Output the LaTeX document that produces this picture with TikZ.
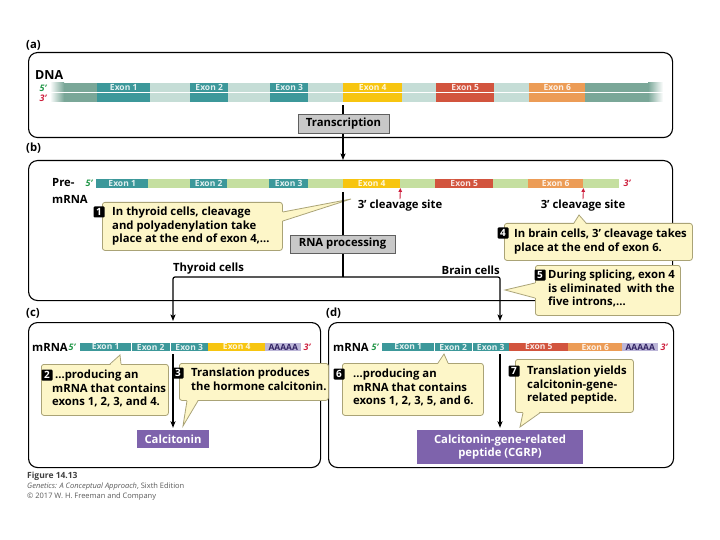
\documentclass[tikz,border=0pt]{standalone}
\usepackage{fontspec}
\setmainfont{Open Sans}
\usetikzlibrary{arrows.meta, positioning, calc}
\definecolor{exteal}{RGB}{60,152,154}
\definecolor{dnaflank}{RGB}{122,167,152}
\definecolor{dnaintron}{RGB}{197,221,214}
\definecolor{preintron}{RGB}{197,223,160}
\definecolor{exyellow}{RGB}{247,197,16}
\definecolor{exred}{RGB}{210,84,62}
\definecolor{exorange}{RGB}{236,156,86}
\definecolor{polya}{RGB}{188,182,216}
\definecolor{polyatext}{RGB}{50,35,100}
\definecolor{notefill}{RGB}{253,246,200}
\definecolor{noteedge}{RGB}{170,163,118}
\definecolor{procgray}{RGB}{200,200,200}
\definecolor{peptide}{RGB}{126,99,172}
\definecolor{fivegreen}{RGB}{34,150,72}
\definecolor{threered}{RGB}{205,30,60}

\begin{document}
\begin{tikzpicture}[x=1pt, y=-1pt,
    every node/.style={font=\bfseries\fontsize{11.3}{13.6}\selectfont},
    panel/.style={draw, line width=1.1pt, rounded corners=9pt, anchor=north west, inner sep=0pt},
    plabel/.style={anchor=west, inner sep=0pt},
    seg/.style={anchor=west, inner sep=0pt, minimum height=8.5pt, text=white, text opacity=.85, font=\bfseries\fontsize{8.5}{8.5}\selectfont},
    dnaseg/.style={seg, minimum height=19pt, label={[exlab]north:#1}},
    exlab/.style={anchor=north, inner sep=1.3pt, text=white, text opacity=.85, font=\bfseries\fontsize{8.5}{8.5}\selectfont},
    five/.style={text=fivegreen, inner sep=0pt, font=\bfseries\itshape\fontsize{9}{9}\selectfont},
    three/.style={five, text=threered},
    procbox/.style={draw=gray!75!black, fill=procgray, line width=0.6pt, inner sep=0pt},
    note/.style={draw=noteedge, fill=notefill, line width=0.8pt, rounded corners=2.5pt, anchor=north west, inner sep=0pt},
    notetext/.style={anchor=north west, align=left, inner sep=0pt},
    badge/.style={fill=black, text=white, rounded corners=1pt, inner sep=0pt, minimum size=11pt, font=\bfseries\fontsize{10}{10}\selectfont},
    peptbox/.style={fill=peptide, text=white, inner sep=0pt, align=center},
    arrow/.style={-{Stealth[length=6.5pt, width=5pt, inset=1.5pt]}, line width=1.2pt},
    cutarrow/.style={-{Triangle[length=4pt, width=3.5pt]}, line width=0.9pt, draw=threered},
    ptr/.style={draw=noteedge, line width=0.8pt}
]
\useasboundingbox (0,0) rectangle (720,540);

% panels
\node[plabel] (la) at (26,45) {(a)};
\node[panel, minimum width=644pt, minimum height=85pt] (pa) at (28,52) {};
\node[plabel] (lb) at (26,148) {(b)};
\node[panel, minimum width=644pt, minimum height=140pt] (pb) at (28,160) {};
\node[plabel] (lc) at (26,313) {(c)};
\node[panel, minimum width=292pt, minimum height=145pt] (pc) at (28,322) {};
\node[plabel] (ld) at (326,313) {(d)};
\node[panel, minimum width=345pt, minimum height=145pt] (pd) at (328,322) {};

% (a) DNA
\node[plabel, font=\bfseries\fontsize{12.5}{12.5}\selectfont] (dna) at (35,75) {DNA};
\node[five] (dna5) at (43,88) {5’};
\node[three] (dna3) at (43,98) {3’};
\shade[left color=white, right color=dnaflank] (50,83) rectangle (64,102);
\fill[dnaflank] (64,83) rectangle (97,102);
\fill[dnaintron] (97,83) rectangle (585,102);
\fill[dnaflank] (585,83) rectangle (648,102);
\shade[left color=dnaflank, right color=white] (648,83) rectangle (663,102);
\node[dnaseg=Exon 1, fill=exteal, minimum width=53pt] (dna1) at (97,92.5) {};
\node[dnaseg=Exon 2, fill=exteal, minimum width=38pt] (dna2) at (190,92.5) {};
\node[dnaseg=Exon 3, fill=exteal, minimum width=38pt] (dna3e) at (270,92.5) {};
\node[dnaseg=Exon 4, fill=exyellow, minimum width=59pt] (dna4) at (343,92.5) {};
\node[dnaseg=Exon 5, fill=exred, minimum width=58pt] (dna5e) at (436,92.5) {};
\node[dnaseg=Exon 6, fill=exorange, minimum width=56pt] (dna6) at (529,92.5) {};
\draw[white, line width=0.8pt] (50,92.5) -- (663,92.5);

% (b) pre-mRNA
\node[plabel] (pretxt) at (52,183) {Pre-};
\node[plabel] (pretxt2) at (52,199) {mRNA};
\node[five] (pre5) at (89,183.5) {5’};
\fill[preintron] (96,179) rectangle (619,188);
\node[seg, fill=exteal, minimum width=52pt] (pre1) at (96,183.5) {Exon 1};
\node[seg, fill=exteal, minimum width=37pt] (pre2) at (190,183.5) {Exon 2};
\node[seg, fill=exteal, minimum width=39pt] (pre3) at (269,183.5) {Exon 3};
\node[seg, fill=exyellow, minimum width=57pt] (pre4) at (343,183.5) {Exon 4};
\node[seg, fill=exred, minimum width=58pt] (pre5e) at (435,183.5) {Exon 5};
\node[seg, fill=exorange, minimum width=55pt] (pre6) at (528,183.5) {Exon 6};
\node[three] (pre3p) at (627,183.5) {3’};
\node[inner sep=1pt] (cs1) at (400,206) {3’ cleavage site};
\node[inner sep=1pt] (cs2) at (583,206) {3’ cleavage site};
\draw[cutarrow] (cs1.north) -- (pre4.south east);
\draw[cutarrow] (cs2.north) -- (pre6.south east);

% callouts in (b)
\node[note, minimum width=180pt, minimum height=48pt] (n1) at (102,202) {};
\node[notetext] (t1) at ([shift={(10,5)}]n1.north west) {In thyroid cells, cleavage\\and polyadenylation take\\place at the end of exon 4,…};
\coordinate (tip1) at (351,199);
\fill[notefill] ([shift={(-1,10)}]n1.north east) -- (tip1) -- ([shift={(-1,19)}]n1.north east) -- cycle;
\draw[ptr] ([shift={(0,10)}]n1.north east) -- (tip1) -- ([shift={(0,19)}]n1.north east);
\node[badge] (b1) at ([shift={(-3,10)}]n1.north west) {1};

\node[note, minimum width=188pt, minimum height=37pt] (n4) at (504,223) {};
\node[notetext] (t4) at ([shift={(10,6)}]n4.north west) {In brain cells, 3’ cleavage takes\\place at the end of exon 6.};
\coordinate (tip4) at (579,215);
\fill[notefill] ([shift={(70,1)}]n4.north west) -- (tip4) -- ([shift={(82,1)}]n4.north west) -- cycle;
\draw[ptr] ([shift={(70,0)}]n4.north west) -- (tip4) -- ([shift={(82,0)}]n4.north west);
\node[badge] (b4) at ([shift={(-1,10)}]n4.north west) {4};

\node[note, minimum width=145pt, minimum height=50pt] (n5) at (535,265) {};
\node[notetext] (t5) at ([shift={(13,5)}]n5.north west) {During splicing, exon 4\\is eliminated\ \ with the\\five introns,…};
\coordinate (tip5) at (505,290);
\fill[notefill] ([shift={(1,18)}]n5.north west) -- (tip5) -- ([shift={(1,33)}]n5.north west) -- cycle;
\draw[ptr] ([shift={(0,18)}]n5.north west) -- (tip5) -- ([shift={(0,33)}]n5.north west);
\node[badge] (b5) at ([shift={(5,10)}]n5.north west) {5};

% flow through (a) and (b)
\draw[arrow, shorten <=3pt] (dna4.south west) -- (dna4.south west |- pb.north);
\node[procbox, minimum width=91pt, minimum height=19pt] (tx) at (343.5,123.5) {Transcription};
\coordinate (split) at (343,277);
\coordinate (toC) at (173,321);
\coordinate (toD) at (500,321);
\draw[line width=1.2pt, shorten <=4pt] (pre4.south west) -- (split);
\draw[arrow, rounded corners=2pt] (split) -| (toC);
\draw[arrow, rounded corners=2pt] (split) -| (toD);
\node[procbox, minimum width=105pt, minimum height=18pt] (proc) at (342.5,244) {RNA processing};
\node[anchor=west, inner sep=0pt] (thyc) at (173,269) {Thyroid cells};
\node[anchor=east, inner sep=0pt] (brnc) at (500,270) {Brain cells};

% (c) thyroid mRNA
\node[plabel] (cmrna) at (32,347) {mRNA};
\node[five] (c5) at (72,347) {5’};
\node[seg, fill=exteal, minimum width=51pt] (thy1) at (80,347) {Exon 1};
\node[seg, fill=exteal, minimum width=39pt] (thy2) at (131,347) {Exon 2};
\node[seg, fill=exteal, minimum width=38pt] (thy3) at (170,347) {Exon 3};
\node[seg, fill=exyellow, minimum width=57pt] (thy4) at (208,347) {Exon 4};
\node[seg, fill=polya, text=polyatext, text opacity=1, minimum width=36pt] (thyA) at (265,347) {AAAAA};
\node[three] (c3) at (307,347) {3’};
\draw[white, line width=0.6pt] (thy2.north west) -- (thy2.south west);
\draw[white, line width=0.6pt] (thy3.north west) -- (thy3.south west);
\node[peptbox, minimum width=72pt, minimum height=18pt] (ctn) at (173,439) {Calcitonin};
\draw[arrow, shorten <=3pt, shorten >=2pt] (ctn.north |- thy3.south) -- (ctn.north);

\node[note, minimum width=127pt, minimum height=51pt] (n2) at (41,364) {};
\node[notetext] (t2) at ([shift={(11,6)}]n2.north west) {\ …producing an\\mRNA that contains\\exons 1, 2, 3, and 4.};
\coordinate (tip2) at (120,355);
\fill[notefill] ([shift={(69,1)}]n2.north west) -- (tip2) -- ([shift={(80,1)}]n2.north west) -- cycle;
\draw[ptr] ([shift={(69,0)}]n2.north west) -- (tip2) -- ([shift={(80,0)}]n2.north west);
\node[badge] (b2) at ([shift={(6,11)}]n2.north west) {2};

\node[note, minimum width=149pt, minimum height=37pt] (n3) at (179,363) {};
\node[notetext] (t3) at ([shift={(12,5)}]n3.north west) {Translation produces\\the hormone calcitonin.};
\coordinate (tip3) at (183,426);
\fill[notefill] ([shift={(8,-1)}]n3.south west) -- (tip3) -- ([shift={(19,-1)}]n3.south west) -- cycle;
\draw[ptr] ([shift={(8,0)}]n3.south west) -- (tip3) -- ([shift={(19,0)}]n3.south west);
\node[badge] (b3) at ([shift={(-1,10)}]n3.north west) {3};

% (d) brain mRNA
\node[plabel] (dmrna) at (333,347) {mRNA};
\node[five] (d5) at (375,347) {5’};
\node[seg, fill=exteal, minimum width=52pt] (brn1) at (382,347) {Exon 1};
\node[seg, fill=exteal, minimum width=38pt] (brn2) at (434,347) {Exon 2};
\node[seg, fill=exteal, minimum width=37pt] (brn3) at (472,347) {Exon 3};
\node[seg, fill=exred, minimum width=59pt] (brn5) at (509,347) {Exon 5};
\node[seg, fill=exorange, minimum width=54pt] (brn6) at (568,347) {Exon 6};
\node[seg, fill=polya, text=polyatext, text opacity=1, minimum width=36pt] (brnA) at (622,347) {AAAAA};
\node[three] (d3) at (664,347) {3’};
\draw[white, line width=0.6pt] (brn2.north west) -- (brn2.south west);
\draw[white, line width=0.6pt] (brn3.north west) -- (brn3.south west);
\node[peptbox, minimum width=166pt, minimum height=34pt] (cgrp) at (500,447) {Calcitonin-gene-related\\peptide (CGRP)};
\draw[arrow, shorten <=3pt, shorten >=2pt] (cgrp.north |- brn3.south) -- (cgrp.north);

\node[note, minimum width=141pt, minimum height=52pt] (n6) at (342,363) {};
\node[notetext] (t6) at ([shift={(11,6)}]n6.north west) {…producing an\\mRNA that contains\\exons 1, 2, 3, 5, and 6.};
\coordinate (tip6) at (444,354);
\fill[notefill] ([shift={(96,1)}]n6.north west) -- (tip6) -- ([shift={(106,1)}]n6.north west) -- cycle;
\draw[ptr] ([shift={(96,0)}]n6.north west) -- (tip6) -- ([shift={(106,0)}]n6.north west);
\node[badge] (b6) at ([shift={(-3,11)}]n6.north west) {6};

\node[note, minimum width=118pt, minimum height=53pt] (n7) at (515,359) {};
\node[notetext] (t7) at ([shift={(12,7)}]n7.north west) {Translation yields\\calcitonin-gene-\\related peptide.};
\coordinate (tip7) at (520,427);
\fill[notefill] ([shift={(8,-1)}]n7.south west) -- (tip7) -- ([shift={(25,-1)}]n7.south west) -- cycle;
\draw[ptr] ([shift={(8,0)}]n7.south west) -- (tip7) -- ([shift={(25,0)}]n7.south west);
\node[badge] (b7) at ([shift={(-1,12)}]n7.north west) {7};

% caption
\node[plabel, font=\bfseries\fontsize{8.5}{9}\selectfont, text=black!75] (fig) at (27,476) {Figure 14.13};
\node[plabel, font=\fontsize{7.5}{8}\selectfont, text=black!65] (src) at (27,487) {\textit{Genetics: A Conceptual Approach}, Sixth Edition};
\node[plabel, font=\fontsize{7.5}{8}\selectfont, text=black!65] (copy) at (27,497) {© 2017 W. H. Freeman and Company};
\end{tikzpicture}
\end{document}
